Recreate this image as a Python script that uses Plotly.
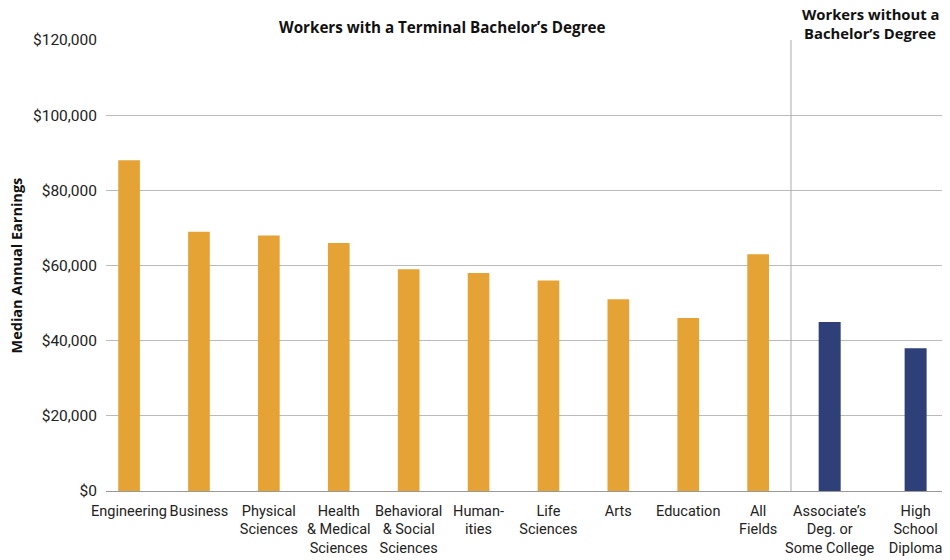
import plotly.graph_objects as go

categories = ['Engineering', 'Business', 'Physical<br>Sciences', 'Health<br>&amp; Medical<br>Sciences',
              'Behavioral<br>&amp; Social<br>Sciences', 'Human-<br>ities', 'Life<br>Sciences', 'Arts',
              'Education', 'All<br>Fields', 'Associate’s<br>Deg. or<br>Some College', 'High<br>School<br>Diploma']
earnings = [88000, 69000, 68000, 66000, 59000, 58000, 56000, 51000, 46000, 63000, 45000, 38000]
n_bach = 10  # first 10 are terminal bachelor's degree fields

tick_vals = [0, 20000, 40000, 60000, 80000, 100000, 120000]
tick_text = ['$0', '$20,000', '$40,000', '$60,000', '$80,000', '$100,000', '$120,000']

orange = '#E5A335'
navy = '#2F3F78'
font = 'Roboto'
bold_font = 'Open Sans'
split = 0.8116  # where the two groups meet (paper coords)

fig = go.Figure()
fig.add_trace(go.Bar(
    x=categories[:n_bach], y=earnings[:n_bach], width=0.31,
    marker_color=orange, marker_line_width=0,
    xaxis='x', yaxis='y',
    hovertemplate='%{y:$,.0f}<extra></extra>'
))
fig.add_trace(go.Bar(
    x=categories[n_bach:], y=earnings[n_bach:], width=0.256,
    marker_color=navy, marker_line_width=0,
    xaxis='x2', yaxis='y2',
    hovertemplate='%{y:$,.0f}<extra></extra>'
))

# divider between the two groups
fig.add_shape(type='line', xref='paper', yref='y', x0=split, x1=split, y0=0, y1=120000,
              line=dict(color='#AAAAAA', width=1))

title_font = dict(family=bold_font, size=15.2, color='#111111')
fig.add_annotation(text='<b>Workers with a Terminal Bachelor’s Degree</b>', xref='x', yref='paper',
                   x=4.49, y=1, yanchor='middle', yshift=13, showarrow=False, borderpad=0,
                   font=title_font)
fig.add_annotation(text='<b>Workers without a</b>', xref='x2', yref='paper',
                   x=0.47, y=1, yanchor='middle', yshift=26, showarrow=False, borderpad=0,
                   font=dict(family=bold_font, size=14.8, color='#111111'))
fig.add_annotation(text='<b>Bachelor’s Degree</b>', xref='x2', yref='paper',
                   x=0.47, y=1, yanchor='middle', yshift=7, showarrow=False, borderpad=0,
                   font=dict(family=bold_font, size=14.8, color='#111111'))
fig.add_annotation(text='<b>Median Annual Earnings</b>', xref='paper', yref='paper',
                   x=0, y=0.5, xanchor='center', yanchor='middle', xshift=-90, textangle=-90,
                   showarrow=False, borderpad=0,
                   font=dict(family=bold_font, size=14.5, color='#111111'))

xcommon = dict(showgrid=False, zeroline=False, showline=False, ticks='', tickangle=0,
               automargin=False, ticklabelstandoff=9, tickfont=dict(size=14.5))
ycommon = dict(range=[0, 120000], tickvals=tick_vals, showgrid=True, gridcolor='#BBBBBB',
               gridwidth=1, zeroline=True, zerolinecolor='#999999', zerolinewidth=1,
               ticks='', automargin=False)

fig.update_layout(
    width=942, height=552,
    margin=dict(l=98, r=0, t=32, b=69),
    plot_bgcolor='white', paper_bgcolor='white',
    showlegend=False,
    font=dict(family=font, size=15, color='#222222'),
    xaxis=dict(domain=[0, split], range=[-0.33, 9.47], anchor='y', **xcommon),
    xaxis2=dict(domain=[split, 1], range=[-0.45, 1.40], anchor='y2', **xcommon),
    yaxis=dict(anchor='x', ticktext=tick_text, ticklabelstandoff=8,
               tickfont=dict(size=15.5), **ycommon),
    yaxis2=dict(anchor='x2', matches='y', showticklabels=False, **ycommon),
)

fig.write_html("out.html")
